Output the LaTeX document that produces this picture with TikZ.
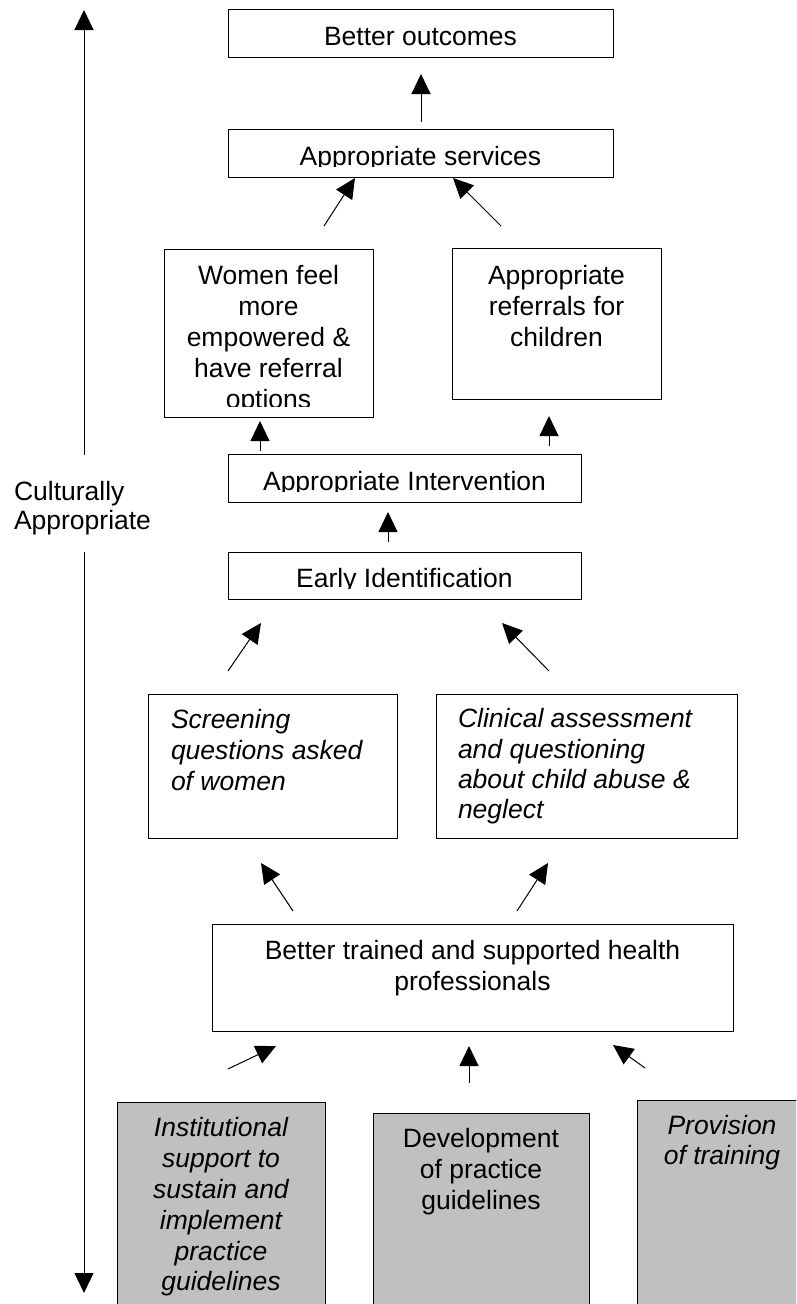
\documentclass[tikz,border=0pt]{standalone}
\usepackage{fontspec}
\setmainfont{Liberation Sans}
\usetikzlibrary{arrows.meta}
\definecolor{boxgray}{HTML}{C0C0C0}
\tikzset{
  box/.style={draw=black, line width=1pt, inner sep=0pt, outer sep=0pt, fill=white},
  graybox/.style={box, fill=boxgray},
  txt/.style={inner sep=0pt, outer sep=0pt, font=\fontsize{26.5}{30.8}\selectfont},
  arr/.style={line width=1pt, -{Triangle[length=20pt, width=19pt]}},
}
\begin{document}
\begin{tikzpicture}[x=1pt, y=-1pt]
\useasboundingbox (0,0) rectangle (796,1304);
\clip (0,0) rectangle (796,1304);

% boxes
\node[box, minimum width=385, minimum height=48] (bo) at (420.5,33) {};
\node[box, minimum width=385, minimum height=48] (as) at (420.5,153) {};
\node[box, minimum width=209, minimum height=168] (wf) at (268.5,333) {};
\node[box, minimum width=209, minimum height=151] (ar) at (556.5,323.5) {};
\node[box, minimum width=353, minimum height=48] (ai) at (404.5,478) {};
\node[box, minimum width=353, minimum height=47] (ei) at (404.5,575.5) {};
\node[box, minimum width=249, minimum height=144] (sq) at (272.5,766) {};
\node[box, minimum width=301, minimum height=144] (ca) at (586.5,766) {};
\node[box, minimum width=521, minimum height=107] (bt) at (472.5,977.5) {};
\node[graybox, minimum width=208, minimum height=218] (is) at (221,1211) {};
\node[graybox, minimum width=216, minimum height=207] (dp) at (481,1216.5) {};
\node[graybox, minimum width=170, minimum height=220] (pt) at (722,1210) {};

% texts
\node[txt, anchor=base] (bo-t) at (420.5,45) {Better outcomes};
\begin{scope}
  \clip (as.north west) rectangle ([yshift=11pt]as.south east);
  \node[txt, anchor=base] (as-t) at (420.5,165) {Appropriate services};
\end{scope}
\begin{scope}
  \clip (wf.north west) rectangle ([yshift=11pt]wf.south east);
  \node[txt, anchor=north, align=center] (wf-t) at (268.5,265.7) {Women feel\\more\\empowered \&\\have referral\\options};
\end{scope}
\node[txt, anchor=north, align=center] (ar-t) at (556.5,265.7) {Appropriate\\referrals for\\children};
\begin{scope}
  \clip (ai.north west) rectangle ([yshift=11pt]ai.south east);
  \node[txt, anchor=base] (ai-t) at (404.5,490) {Appropriate Intervention};
\end{scope}
\begin{scope}
  \clip (ei.north west) rectangle ([yshift=11pt]ei.south east);
  \node[txt, anchor=base] (ei-t) at (404.5,587) {Early Identification};
\end{scope}
\node[txt, anchor=north west, align=left, font=\fontsize{26.5}{30.8}\selectfont\itshape] (sq-t) at (171,709.7) {Screening\\questions asked\\of women};
\node[txt, anchor=north west, align=left, font=\fontsize{26.5}{30.2}\selectfont\itshape] (ca-t) at (458,708.7) {Clinical assessment\\and questioning\\about child abuse \&\\neglect};
\node[txt, anchor=north, align=center] (bt-t) at (472.5,940.7) {Better trained and supported health\\professionals};
\node[txt, anchor=north, align=center, font=\fontsize{26.5}{30.8}\selectfont\itshape] (is-t) at (221,1117.7) {Institutional\\support to\\sustain and\\implement\\practice\\guidelines};
\node[txt, anchor=north, align=center] (dp-t) at (481,1128.7) {Development\\of practice\\guidelines};
\node[txt, anchor=north, align=center, font=\fontsize{26.5}{29.5}\selectfont\itshape] (pt-t) at (722,1115.7) {Provision\\of training};

\node[txt, anchor=base west, align=left] (cult) at (14,500) {Culturally};
\node[txt, anchor=base west, align=left] (cult2) at (14,529) {Appropriate};

% connector end points
\coordinate (a1s) at (421,122);  \coordinate (a1e) at (421,74);
\coordinate (a2s) at (324,226);  \coordinate (a2e) at (355,178);
\coordinate (a3s) at (501,226);  \coordinate (a3e) at (453,178);
\coordinate (a4s) at (260,451);  \coordinate (a4e) at (260,421);
\coordinate (a5s) at (549,446);  \coordinate (a5e) at (549,416);
\coordinate (a6s) at (388,542);  \coordinate (a6e) at (388,512);
\coordinate (a7s) at (228,671);  \coordinate (a7e) at (261,623);
\coordinate (a8s) at (549,671);  \coordinate (a8e) at (502,623);
\coordinate (a9s) at (293,911);  \coordinate (a9e) at (261,863);
\coordinate (a10s) at (517,911); \coordinate (a10e) at (548,863);
\coordinate (a11s) at (228,1069); \coordinate (a11e) at (276,1046);
\coordinate (a12s) at (469,1083); \coordinate (a12e) at (469,1046);
\coordinate (a13s) at (645,1068); \coordinate (a13e) at (613,1045);
\coordinate (ax1s) at (84,455);  \coordinate (ax1e) at (84,10);
\coordinate (ax2s) at (84,552);  \coordinate (ax2e) at (84,1293);

\foreach \a in {a1,a2,a3,a4,a5,a6,a7,a8,a9,a10,a11,a12,a13,ax1,ax2}
  \draw[arr] (\a s) -- (\a e);
\end{tikzpicture}
\end{document}
